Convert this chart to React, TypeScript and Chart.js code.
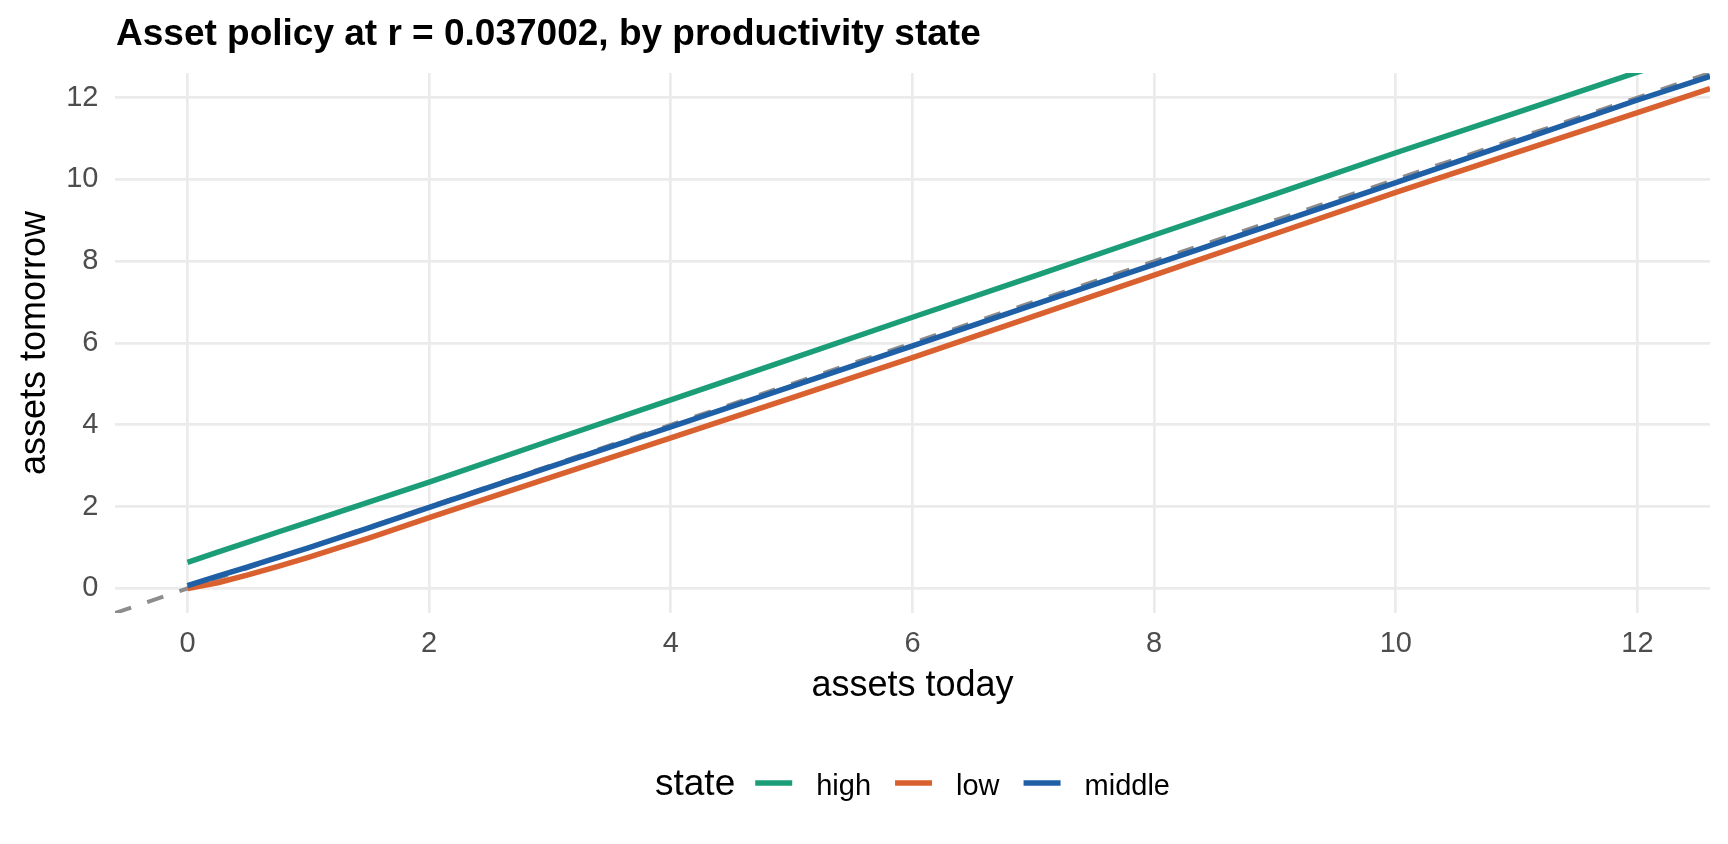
import { useEffect, useRef } from "react";
import { Chart, registerables } from "chart.js";
import type { Plugin } from "chart.js";

Chart.register(...registerables);

const FONT = '"Liberation Sans", Arial, sans-serif';
const TITLE = "Asset policy at r = 0.037002, by productivity state";
const LEGEND_TITLE = "state";

// policy functions
const assetGrid = [0, 0.25, 0.5, 0.75, 1, 1.5, 2, 3, 4, 5, 6, 7, 8, 9, 10, 11, 12, 12.6];
const highPolicy = [0.64, 0.89, 1.13, 1.38, 1.62, 2.11, 2.6, 3.61, 4.61, 5.62, 6.63, 7.63, 8.64, 9.64, 10.65, 11.63, 12.62, 13.2];
const lowPolicy = [0, 0.14, 0.33, 0.54, 0.76, 1.23, 1.73, 2.71, 3.68, 4.66, 5.64, 6.65, 7.66, 8.67, 9.68, 10.66, 11.63, 12.22];
const middlePolicy = [0.07, 0.3, 0.53, 0.76, 0.99, 1.48, 1.98, 2.97, 3.95, 4.94, 5.93, 6.93, 7.92, 8.92, 9.92, 10.93, 11.94, 12.52];
const diagonal = [-0.6, 12.6];
const tickValues = [0, 2, 4, 6, 8, 10, 12];
const axisMin = -0.6;
const axisMax = 12.6;

const GREEN = "#1B9E77";
const ORANGE = "#D9602F";
const BLUE = "#1F5FA6";
const GRID = "#EBEBEB";

const decorations: Plugin<"line"> = {
  id: "decorations",
  afterDraw(chart) {
    const { ctx, chartArea } = chart;
    ctx.save();
    ctx.fillStyle = "#000";
    ctx.textAlign = "left";
    ctx.textBaseline = "alphabetic";
    ctx.font = `bold 37px ${FONT}`;
    ctx.fillText(TITLE, chartArea.left + 1, 45);

    // legend: "state" then key + label for each named series
    const items = chart.data.datasets.filter((d) => d.label);
    ctx.font = `37px ${FONT}`;
    const titleW = ctx.measureText(LEGEND_TITLE).width;
    ctx.font = `29px ${FONT}`;
    const widths = items.map((d) => ctx.measureText(String(d.label)).width);
    const keyW = 37;
    const gap = 24;
    let total = titleW + 20;
    widths.forEach((w, i) => {
      total += keyW + gap + w + (i < widths.length - 1 ? gap : 0);
    });
    let x = (chartArea.left + chartArea.right) / 2 - total / 2;
    const base = 795;
    const keyY = 783;
    ctx.font = `37px ${FONT}`;
    ctx.fillText(LEGEND_TITLE, x, base);
    x += titleW + 20;
    ctx.font = `29px ${FONT}`;
    items.forEach((d, i) => {
      ctx.strokeStyle = d.borderColor as string;
      ctx.lineWidth = 5.5;
      ctx.beginPath();
      ctx.moveTo(x, keyY);
      ctx.lineTo(x + keyW, keyY);
      ctx.stroke();
      x += keyW + gap;
      ctx.fillText(String(d.label), x, base);
      x += widths[i] + gap;
    });
    ctx.restore();
  },
};

export default function App() {
  const canvasRef = useRef<HTMLCanvasElement>(null);

  useEffect(() => {
    document.body.style.margin = "0";
    const canvas = canvasRef.current;
    if (!canvas) return;
    const pts = (ys: number[]) => assetGrid.map((x, i) => ({ x, y: ys[i] }));
    const line = {
      borderWidth: 5.5,
      pointRadius: 0,
      borderJoinStyle: "round" as const,
      clip: 0,
      tension: 0,
    };

    const chart = new Chart(canvas, {
      type: "line",
      data: {
        datasets: [
          { ...line, label: "high", data: pts(highPolicy), borderColor: GREEN, order: 2 },
          { ...line, label: "low", data: pts(lowPolicy), borderColor: ORANGE, order: 1 },
          { ...line, label: "middle", data: pts(middlePolicy), borderColor: BLUE, order: 0 },
          {
            ...line,
            label: "",
            data: diagonal.map((v) => ({ x: v, y: v })),
            borderColor: "#8C8C8C",
            borderWidth: 4,
            borderDash: [17, 17],
            order: 3,
          },
        ],
      },
      options: {
        responsive: false,
        animation: false,
        events: [],
        layout: { padding: { top: 73, right: 18, bottom: 131, left: 0 } },
        plugins: { legend: { display: false }, title: { display: false }, tooltip: { enabled: false } },
        scales: {
          x: {
            type: "linear",
            min: axisMin,
            max: axisMax,
            afterBuildTicks: (s) => {
              s.ticks = tickValues.map((value) => ({ value }));
            },
            afterFit: (s) => {
              s.height = 100;
            },
            grid: { color: GRID, lineWidth: 2.7, drawTicks: false },
            border: { display: false },
            ticks: { padding: 14, color: "#4D4D4D", font: { family: FONT, size: 29 } },
            title: {
              display: true,
              text: "assets today",
              color: "#000",
              font: { family: FONT, size: 36 },
              padding: { top: 0, bottom: 5 },
            },
          },
          y: {
            type: "linear",
            min: axisMin,
            max: axisMax,
            afterBuildTicks: (s) => {
              s.ticks = tickValues.map((value) => ({ value }));
            },
            afterFit: (s) => {
              s.width = 115;
            },
            grid: { color: GRID, lineWidth: 2.7, drawTicks: false },
            border: { display: false },
            ticks: { padding: 16.5, color: "#4D4D4D", font: { family: FONT, size: 29 } },
            title: {
              display: true,
              text: "assets tomorrow",
              color: "#000",
              font: { family: FONT, size: 36 },
              padding: { top: 13.4, bottom: 0 },
            },
          },
        },
      },
      plugins: [decorations],
    });

    return () => chart.destroy();
  }, []);

  return <canvas ref={canvasRef} width={1728} height={844} style={{ display: "block" }} />;
}
